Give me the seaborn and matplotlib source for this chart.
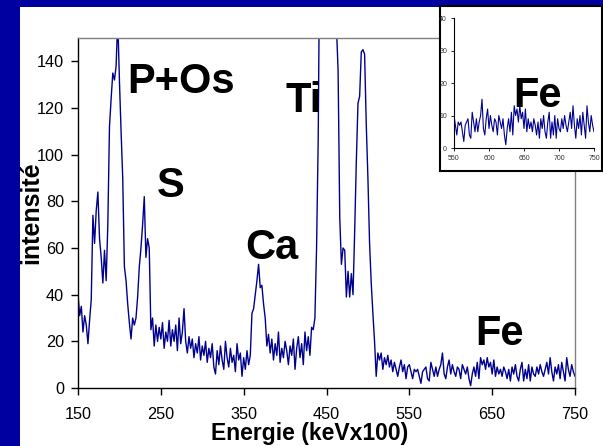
import numpy as np
import matplotlib
matplotlib.use('Agg')
import matplotlib.pyplot as plt
import seaborn as sns

# spectrum, one value every 2 channels (keV x100)
counts_150_248 = [40, 31, 35, 24, 31, 27, 19, 29, 38, 74,
                  62, 76, 84, 64, 56, 45, 59, 46, 70, 112,
                  124, 135, 132, 138, 158, 132, 110, 90, 52, 46,
                  36, 28, 21, 30, 27, 30, 39, 52, 60, 70,
                  82, 56, 64, 60, 25, 30, 18, 27, 20, 26]
counts_250_348 = [21, 28, 17, 24, 20, 29, 18, 25, 20, 27,
                  16, 30, 19, 24, 34, 20, 15, 22, 17, 21,
                  13, 19, 15, 22, 12, 18, 14, 20, 11, 17,
                  13, 19, 9, 6, 16, 10, 18, 12, 8, 20,
                  13, 9, 17, 11, 14, 7, 19, 12, 15, 5]
counts_350_448 = [13, 8, 16, 10, 14, 32, 34, 40, 46, 53,
                  43, 44, 36, 30, 18, 23, 15, 21, 12, 19,
                  14, 24, 11, 17, 13, 20, 16, 10, 18, 14,
                  21, 8, 17, 22, 13, 19, 10, 24, 16, 22,
                  14, 26, 25, 30, 60, 107, 200, 320, 400, 420]
counts_450_548 = [430, 420, 400, 360, 300, 220, 155, 136, 73, 53,
                  60, 59, 39, 50, 39, 49, 40, 67, 97, 122,
                  125, 144, 145, 143, 113, 90, 62, 45, 32, 20,
                  5, 15, 12, 15, 8, 13, 10, 14, 9, 12,
                  7, 11, 8, 5, 9, 12, 7, 10, 4, 9]
counts_550_750 = [10, 7, 4, 8, 7, 8, 5, 2, 7, 8,
                  9, 4, 3, 11, 8, 5, 9, 5, 8, 10,
                  15, 6, 4, 9, 12, 6, 10, 7, 5, 9,
                  8, 4, 10, 8, 6, 9, 4, 1, 6, 9,
                  5, 11, 4, 13, 10, 12, 8, 13, 9, 11,
                  6, 12, 5, 9, 6, 8, 5, 9, 7, 4,
                  8, 3, 9, 6, 10, 5, 3, 8, 11, 3,
                  8, 4, 10, 3, 9, 6, 5, 9, 6, 10,
                  7, 5, 8, 11, 6, 13, 7, 3, 9, 6,
                  10, 4, 11, 7, 3, 13, 8, 5, 10, 7,
                  5]

counts = np.array(counts_150_248 + counts_250_348 + counts_350_448
                  + counts_450_548 + counts_550_750)
energie = np.arange(150, 751, 2)

main_xticks = [150, 250, 350, 450, 550, 650, 750]
main_yticks = [0, 20, 40, 60, 80, 100, 120, 140]
inset_xticks = [550, 600, 650, 700, 750]
inset_yticks = [0, 10, 20, 30, 40]

peaks = [('P+Os', 181, 93), ('S', 171, 197), ('Ti', 304, 112),
         ('Ca', 272, 259), ('Fe', 499, 345), ('Fe', 537, 107)]

sns.set_style('white')
plt.rcParams['font.family'] = ['Liberation Sans', 'DejaVu Sans']
plt.rcParams['text.color'] = 'black'

W, H = 603, 446
LINE = '#00008f'


def fx(x):
    return x / W


def fy(y):
    return 1 - y / H


fig = plt.figure(figsize=(W / 100, H / 100), dpi=100, facecolor='#0000a0')
fig.add_artist(plt.Rectangle((fx(20), 0), 1, fy(7), transform=fig.transFigure,
                             facecolor='white', edgecolor='none', zorder=-5))

# main spectrum
ax = fig.add_axes([fx(78), fy(388), (575 - 78) / W, (388 - 38) / H])
ax.set_facecolor('white')
sns.lineplot(x=energie, y=counts, ax=ax, color=LINE, linewidth=1.0, estimator=None)
ax.set_xlim(150, 750)
ax.set_ylim(0, 150)
ax.set_xticks(main_xticks)
ax.set_yticks(main_yticks)
ax.set_xlabel('')
ax.set_ylabel('')
for s in ['left', 'bottom']:
    ax.spines[s].set_color('black')
    ax.spines[s].set_linewidth(1.0)
for s in ['top', 'right']:
    ax.spines[s].set_color('#808080')
    ax.spines[s].set_linewidth(1.0)
ax.tick_params(direction='out', length=5, width=1, color='black',
               labelsize=11.7, labelcolor='black', left=True, bottom=True)
ax.tick_params(axis='x', pad=9)
ax.tick_params(axis='y', pad=5)

fig.text(fx(310), fy(440), 'Energie (keVx100)', ha='center', va='baseline',
         fontsize=16.5, fontweight='bold', color='black')
fig.text(fx(31), fy(213), 'intensité', ha='center', va='center', rotation=90,
         fontsize=18, fontweight='bold', color='black')

# inset frame + zoom on Fe region
frame = fig.add_axes([fx(440), fy(171), 162 / W, 165 / H])
frame.set_facecolor('white')
frame.set_xticks([])
frame.set_yticks([])
for s in frame.spines.values():
    s.set_color('black')
    s.set_linewidth(1.5)

ins = fig.add_axes([fx(454), fy(148), 140 / W, 130 / H])
ins.set_facecolor('none')
sel = energie >= 550
sns.lineplot(x=energie[sel], y=counts[sel], ax=ins, color=LINE, linewidth=0.8,
             estimator=None)
ins.set_xlim(550, 750)
ins.set_ylim(0, 40)
ins.set_xticks(inset_xticks)
ins.set_yticks(inset_yticks)
ins.set_xlabel('')
ins.set_ylabel('')
ins.spines['top'].set_visible(False)
ins.spines['right'].set_visible(False)
for s in ['left', 'bottom']:
    ins.spines[s].set_color('black')
    ins.spines[s].set_linewidth(0.8)
ins.tick_params(direction='out', length=2, width=0.6, color='black', labelsize=5,
                labelcolor='#333333', pad=3, left=True, bottom=True)

for label, x, y in peaks:
    fig.text(fx(x), fy(y), label, ha='center', va='baseline', fontsize=30,
             fontweight='bold', color='black', zorder=10)

fig.savefig('out.png', dpi=100, facecolor=fig.get_facecolor())
